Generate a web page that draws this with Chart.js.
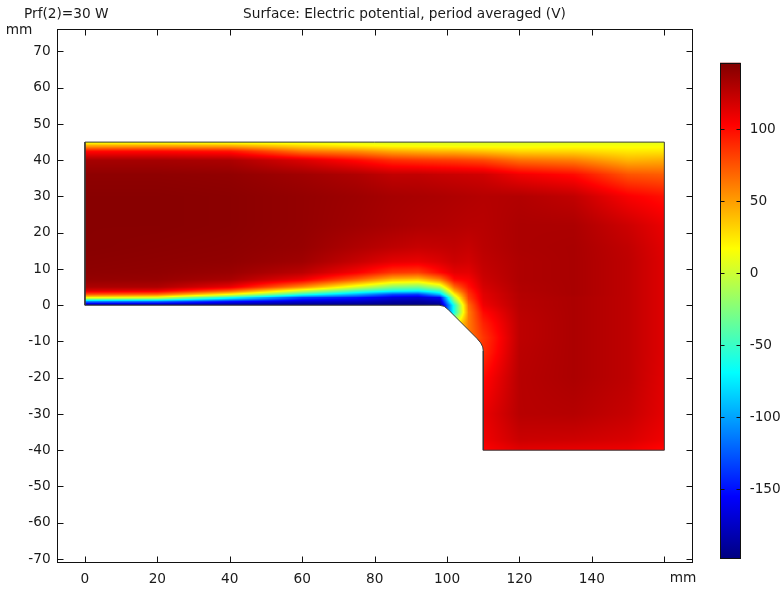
<!DOCTYPE html>
<html><head><meta charset="utf-8">
<script src="https://cdn.jsdelivr.net/npm/chart.js@4.4.1/dist/chart.umd.min.js"></script>
<style>
html,body{margin:0;padding:0;background:#fff;}
#wrap{position:relative;width:784px;height:589px;background:#fff;}
#main{position:absolute;left:0;top:0;}
#cbar{position:absolute;left:700px;top:0;}
</style></head>
<body><div id="wrap"><canvas id="main" width="784" height="589"></canvas><canvas id="cbar" width="84" height="589"></canvas></div>
<script>
// ---- data (mm / V) ----
const xNodes = [0, 20, 40, 60, 75, 85, 92, 98, 102, 106, 110, 120, 135, 150, 160];
const yNodes = [45, 44, 42.5, 40, 36, 30, 22, 16, 12, 9, 7, 5, 4, 3, 2, 1, 0, -2, -5, -9, -13, -20, -30, -37, -40];
// one row per yNodes entry, one value per xNodes entry (electric potential, V)
const potentialRows = [
  [10, 10, 9, 8, 7, 5, 5, 5, 5, 5, 5, 5, 6, 7, 8],
  [45, 45, 42, 28, 20, 15, 14, 13, 12, 12, 12, 12, 14, 14, 14],
  [100, 100, 96, 62, 55, 45, 42, 40, 40, 38, 36, 30, 30, 24, 25],
  [133, 133, 131, 115, 100, 88, 85, 83, 82, 80, 78, 65, 60, 42, 45],
  [141, 141, 140, 135, 130, 124, 124, 122, 121, 120, 119, 108, 100, 75, 72],
  [143, 143, 142, 139, 136, 133, 132, 131, 130, 129, 128, 129, 124, 105, 98],
  [143, 143, 142, 139, 135, 132, 130, 129, 128, 127, 127, 131, 131, 120, 110],
  [143, 142, 141, 138, 130, 125, 122, 123, 124, 122, 126, 131, 132, 124, 113],
  [142, 141, 140, 135, 122, 112, 110, 115, 120, 118, 124, 130, 132, 125, 114],
  [141, 140, 137, 126, 105, 85, 82, 100, 112, 112, 122, 130, 132, 125, 114],
  [139, 138, 132, 108, 70, 40, 35, 60, 100, 105, 120, 130, 132, 125, 114],
  [131, 130, 110, 55, 5, -25, -30, -5, 68, 98, 117, 129, 132, 125, 114],
  [116, 112, 75, 5, -40, -60, -65, -45, 48, 92, 115, 129, 132, 125, 114],
  [76, 68, 18, -55, -95, -130, -135, -90, 20, 86, 113, 128, 132, 125, 114],
  [15, 5, -65, -135, -150, -168, -172, -160, -5, 82, 112, 128, 131, 125, 114],
  [-110, -118, -150, -170, -175, -185, -188, -180, -30, 75, 110, 127, 131, 125, 114],
  [-198, -198, -198, -198, -198, -198, -198, -198, -60, 68, 108, 127, 131, 125, 114],
  [-198, -198, -198, -198, -198, -198, -198, -198, -60, 62, 100, 126, 131, 125, 114],
  [-198, -198, -198, -198, -198, -198, -198, -198, 10, 62, 92, 125, 131, 125, 114],
  [-198, -198, -198, -198, -198, -198, -198, -198, 10, 62, 85, 125, 131, 125, 114],
  [-198, -198, -198, -198, -198, -198, -198, -198, 10, 70, 88, 126, 131, 125, 114],
  [-198, -198, -198, -198, -198, -198, -198, -198, 10, 85, 100, 127, 131, 125, 113],
  [-198, -198, -198, -198, -198, -198, -198, -198, 10, 95, 110, 127, 128, 122, 112],
  [-198, -198, -198, -198, -198, -198, -198, -198, 10, 95, 108, 121, 120, 116, 108],
  [-198, -198, -198, -198, -198, -198, -198, -198, 10, 95, 103, 112, 110, 108, 100]
];
// geometry outline (mm)
const outlineX = [0, 97.8, 99.2, 100.2, 108.2, 109.3, 109.85, 110, 110, 160, 160, 0, 0];
const outlineY = [0, 0, -0.3, -1.1, -9.1, -10.4, -11.5, -12.6, -40, -40, 45, 45, 0];
// ticks
const xTicks = [0, 20, 40, 60, 80, 100, 120, 140, 160];
const xTickLabels = ['0', '20', '40', '60', '80', '100', '120', '140', ''];
const yTicks = [-70, -60, -50, -40, -30, -20, -10, 0, 10, 20, 30, 40, 50, 60, 70];
const cbarTicks = [-150, -100, -50, 0, 50, 100];
const cbarMin = -198, cbarMax = 146;
const titleText = 'Surface: Electric potential, period averaged (V)';
const paramText = 'Prf(2)=30 W';
const unitText = 'mm';

// ---- styling ----
const FONT = '"DejaVu Sans", sans-serif';
const FSIZE = 13.7;
const TXT = '#1a1a1a';
const clamp01 = v => Math.max(0, Math.min(1, v));
function jet(t) {
  t = clamp01(t);
  return [clamp01(1.5 - Math.abs(4 * t - 3)) * 255, clamp01(1.5 - Math.abs(4 * t - 2)) * 255, clamp01(1.5 - Math.abs(4 * t - 1)) * 255];
}

const fieldPlugin = {
  id: 'field',
  beforeDatasetsDraw(chart) {
    const { ctx, width, height } = chart;
    const xs = chart.scales.x, ys = chart.scales.y;
    const off = document.createElement('canvas');
    off.width = width; off.height = height;
    const octx = off.getContext('2d');
    const img = octx.createImageData(width, height);
    const d = img.data;
    for (let j = 0; j < yNodes.length - 1; j++) {
      const pyA = ys.getPixelForValue(yNodes[j]), pyB = ys.getPixelForValue(yNodes[j + 1]);
      for (let i = 0; i < xNodes.length - 1; i++) {
        const pxA = xs.getPixelForValue(xNodes[i]), pxB = xs.getPixelForValue(xNodes[i + 1]);
        const v00 = potentialRows[j][i], v10 = potentialRows[j][i + 1];
        const v01 = potentialRows[j + 1][i], v11 = potentialRows[j + 1][i + 1];
        for (let py = Math.floor(pyA); py < Math.ceil(pyB); py++) {
          if (py < 0 || py >= height) continue;
          const fy = clamp01((py + 0.5 - pyA) / (pyB - pyA));
          for (let px = Math.floor(pxA); px < Math.ceil(pxB); px++) {
            if (px < 0 || px >= width) continue;
            const fx = clamp01((px + 0.5 - pxA) / (pxB - pxA));
            const v = (v00 * (1 - fx) + v10 * fx) * (1 - fy) + (v01 * (1 - fx) + v11 * fx) * fy;
            const c = jet((v - cbarMin) / (cbarMax - cbarMin));
            const k = (py * width + px) * 4;
            d[k] = c[0]; d[k + 1] = c[1]; d[k + 2] = c[2]; d[k + 3] = 255;
          }
        }
      }
    }
    octx.putImageData(img, 0, 0);
    ctx.save();
    ctx.beginPath();
    outlineX.forEach((vx, k) => {
      const X = xs.getPixelForValue(vx), Y = ys.getPixelForValue(outlineY[k]);
      if (k) ctx.lineTo(X, Y); else ctx.moveTo(X, Y);
    });
    ctx.closePath();
    ctx.clip();
    ctx.drawImage(off, 0, 0);
    ctx.restore();
  }
};

const framePlugin = {
  id: 'frame',
  afterDraw(chart) {
    const { ctx, chartArea: a } = chart;
    const xs = chart.scales.x, ys = chart.scales.y;
    const L = Math.round(a.left) + 0.5, R = Math.round(a.right) - 0.5, T = Math.round(a.top) + 0.5, B = Math.round(a.bottom) - 0.5;
    ctx.save();
    ctx.strokeStyle = '#111';
    ctx.lineWidth = 1;
    ctx.strokeRect(L, T, R - L, B - T);
    ctx.beginPath();
    const tl = 6;
    xTicks.forEach(v => {
      const p = Math.round(xs.getPixelForValue(v)) + 0.5;
      ctx.moveTo(p, B); ctx.lineTo(p, B - tl);
      ctx.moveTo(p, T); ctx.lineTo(p, T + tl);
    });
    yTicks.forEach(v => {
      const p = Math.round(ys.getPixelForValue(v)) + 0.5;
      ctx.moveTo(L, p); ctx.lineTo(L + tl, p);
      ctx.moveTo(R, p); ctx.lineTo(R - tl, p);
    });
    ctx.stroke();
    ctx.fillStyle = TXT;
    ctx.font = FSIZE + 'px ' + FONT;
    ctx.textBaseline = 'middle';
    ctx.textAlign = 'left';
    ctx.fillText(paramText, 24, 14);
    ctx.textAlign = 'center';
    ctx.fillText(titleText, 404.5, 14);
    ctx.fillText(unitText, 19, 30);
    ctx.fillText(unitText, 683, 578);
    ctx.restore();
  }
};

new Chart(document.getElementById('main'), {
  type: 'scatter',
  data: {
    datasets: [{
      data: outlineX.map((vx, k) => ({ x: vx, y: outlineY[k] })),
      showLine: true, borderColor: '#3a3a3a', borderWidth: 1, pointRadius: 0, fill: false, tension: 0
    }]
  },
  options: {
    responsive: false, animation: false, devicePixelRatio: 1,
    layout: { padding: { top: 29, right: 90.7, left: 0, bottom: 0 } },
    plugins: { legend: { display: false }, tooltip: { enabled: false }, title: { display: false } },
    scales: {
      x: {
        type: 'linear', min: -7.8, max: 168,
        afterBuildTicks(s) { s.ticks = xTicks.map(v => ({ value: v })); },
        afterFit(s) { s.height = 25.7; },
        grid: { display: false, drawTicks: false }, border: { display: false },
        ticks: { padding: 8, autoSkip: false, maxRotation: 0, color: TXT, font: { family: FONT, size: FSIZE },
          callback: (v) => { const k = xTicks.indexOf(v); return k >= 0 ? xTickLabels[k] : ''; } }
      },
      y: {
        type: 'linear', min: -71.2, max: 76.2,
        afterBuildTicks(s) { s.ticks = yTicks.map(v => ({ value: v })); },
        afterFit(s) { s.width = 56.7; },
        grid: { display: false, drawTicks: false }, border: { display: false },
        ticks: { padding: 6, autoSkip: false, color: TXT, font: { family: FONT, size: FSIZE } }
      }
    }
  },
  plugins: [fieldPlugin, framePlugin]
});

const cbarPlugin = {
  id: 'cbarfill',
  beforeDraw(chart) {
    const { ctx, chartArea: a } = chart;
    const ys = chart.scales.y;
    const p0 = ys.getPixelForValue(cbarMax), p1 = ys.getPixelForValue(cbarMin);
    const g = ctx.createLinearGradient(0, p1, 0, p0);
    [0, 0.125, 0.375, 0.625, 0.875, 1].forEach(t => {
      const c = jet(t);
      g.addColorStop(t, 'rgb(' + c.map(Math.round).join(',') + ')');
    });
    ctx.save();
    ctx.fillStyle = g;
    ctx.fillRect(a.left, a.top, a.right - a.left, a.bottom - a.top);
    ctx.strokeStyle = '#111';
    ctx.lineWidth = 1;
    const L = Math.round(a.left) + 0.5, R = Math.round(a.right) - 0.5;
    ctx.strokeRect(L, Math.round(a.top) + 0.5, R - L, Math.round(a.bottom) - Math.round(a.top) - 1);
    ctx.beginPath();
    cbarTicks.forEach(v => {
      const p = Math.round(ys.getPixelForValue(v)) + 0.5;
      ctx.moveTo(L, p); ctx.lineTo(L + 4, p);
      ctx.moveTo(R, p); ctx.lineTo(R - 4, p);
    });
    ctx.stroke();
    ctx.restore();
  }
};

new Chart(document.getElementById('cbar'), {
  type: 'scatter',
  data: { datasets: [] },
  options: {
    responsive: false, animation: false, devicePixelRatio: 1,
    layout: { padding: { top: 62.7, bottom: 30.5, left: 20, right: 0 } },
    plugins: { legend: { display: false }, tooltip: { enabled: false } },
    scales: {
      x: { display: false, min: 0, max: 1 },
      y: {
        type: 'linear', position: 'right', min: cbarMin, max: cbarMax,
        afterBuildTicks(s) { s.ticks = cbarTicks.map(v => ({ value: v })); },
        afterFit(s) { s.width = 43.3; },
        grid: { display: false, drawTicks: false }, border: { display: false },
        ticks: { padding: 9, color: TXT, font: { family: FONT, size: FSIZE } }
      }
    }
  },
  plugins: [cbarPlugin]
});
</script>
</body></html>
